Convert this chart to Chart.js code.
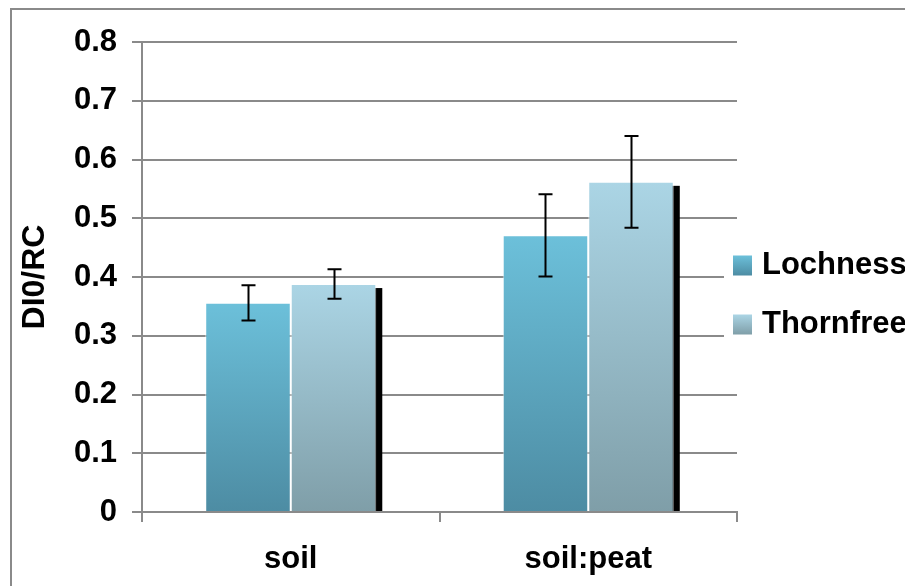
<!DOCTYPE html>
<html>
<head>
<meta charset="utf-8">
<script src="https://cdn.jsdelivr.net/npm/chart.js@4.4.1/dist/chart.umd.min.js"></script>
<style>
  html, body { margin: 0; padding: 0; background: #fff; overflow: hidden; }
  #wrap { position: relative; width: 905px; height: 586px; }
  #frame { position: absolute; left: 10px; top: 8px; width: 1000px; height: 700px;
           border-left: 2px solid #8a8a8a; border-top: 2px solid #8a8a8a; pointer-events: none; }
  canvas { position: absolute; left: 0; top: 0; }
</style>
</head>
<body>
<div id="wrap">
  <canvas id="chart" width="905" height="586"></canvas>
  <div id="frame"></div>
</div>
<script>
const categories = ['soil', 'soil:peat'];
const seriesNames = ['Lochness', 'Thornfree'];
const lochness = [0.356, 0.471];
const thornfree = [0.388, 0.562];
const lochnessErr = [0.030, 0.070];
const thornfreeErr = [0.025, 0.078];
const yTicks = [0, 0.1, 0.2, 0.3, 0.4, 0.5, 0.6, 0.7, 0.8];

const FONT = 'Liberation Sans, Arial, sans-serif';
const shades = [
    { top: '#6cc0da', bottom: '#4d8ca3' },
    { top: '#abd5e5', bottom: '#7f9ea8' }
];

// vertical gradient per bar, from its top down to zero
function barFill(shade) {
    return (c) => {
        const y = c.chart.scales.y;
        if (!y || c.raw == null) return shade.top;
        const y0 = y.getPixelForValue(c.raw), y1 = y.getPixelForValue(0);
        if (!Number.isFinite(y0) || !Number.isFinite(y1) || y0 === y1) return shade.top;
        const g = c.chart.ctx.createLinearGradient(0, y0, 0, y1);
        g.addColorStop(0, shade.top);
        g.addColorStop(1, shade.bottom);
        return g;
    };
}

// black offset shadow behind the second series' bars
const shadowPlugin = {
    id: 'barShadow',
    beforeDatasetDraw(chart, args) {
        if (args.index !== 1) return;
        const ctx = chart.ctx;
        const area = chart.chartArea;
        ctx.save();
        ctx.fillStyle = '#000';
        args.meta.data.forEach(bar => {
            const { x, y, base, width } = bar.getProps(['x', 'y', 'base', 'width'], true);
            const left = x - width / 2 + 6;
            const top = y + 4;
            ctx.fillRect(left, top, width, Math.min(base, area.bottom) - top);
        });
        ctx.restore();
    }
};

const errorBars = {
    id: 'errorBars',
    afterDatasetsDraw(chart) {
        const ctx = chart.ctx;
        const y = chart.scales.y;
        const errs = [lochnessErr, thornfreeErr];
        ctx.save();
        ctx.strokeStyle = '#000';
        ctx.lineWidth = 2;
        chart.data.datasets.forEach((ds, di) => {
            chart.getDatasetMeta(di).data.forEach((bar, i) => {
                const v = ds.data[i], e = errs[di][i];
                const x = Math.round(bar.x) + 0.5;
                const hi = y.getPixelForValue(v + e), lo = y.getPixelForValue(v - e);
                ctx.beginPath();
                ctx.moveTo(x, hi); ctx.lineTo(x, lo);
                ctx.moveTo(x - 7, hi); ctx.lineTo(x + 7, hi);
                ctx.moveTo(x - 7, lo); ctx.lineTo(x + 7, lo);
                ctx.stroke();
            });
        });
        ctx.restore();
    }
};

// legend on a white box that overlaps the plot's right edge
const sideLegend = {
    id: 'sideLegend',
    afterDraw(chart) {
        const ctx = chart.ctx;
        const left = chart.chartArea.right - 13;
        const mid = chart.height / 2 + 2;
        const gap = 59;
        ctx.save();
        ctx.fillStyle = '#fff';
        ctx.fillRect(left, mid - gap / 2 - 45, chart.width - left, gap + 90);
        ctx.font = 'bold 31px ' + FONT;
        ctx.textBaseline = 'middle';
        chart.data.datasets.forEach((ds, i) => {
            const cy = mid + (i - 0.5) * gap;
            const g = ctx.createLinearGradient(0, cy - 10, 0, cy + 10);
            g.addColorStop(0, shades[i].top);
            g.addColorStop(1, shades[i].bottom);
            ctx.fillStyle = g;
            ctx.fillRect(left + 9, cy - 10, 19, 20);
            ctx.fillStyle = '#000';
            ctx.fillText(ds.label, left + 38, cy);
        });
        ctx.restore();
    }
};

new Chart(document.getElementById('chart'), {
    type: 'bar',
    data: {
        labels: categories,
        datasets: [
            { label: seriesNames[0], data: lochness, backgroundColor: barFill(shades[0]) },
            { label: seriesNames[1], data: thornfree, backgroundColor: barFill(shades[1]) }
        ]
    },
    options: {
        responsive: false,
        animation: false,
        devicePixelRatio: 1,
        layout: { padding: { top: 42, right: 168, left: 0, bottom: 0 } },
        datasets: {
            bar: {
                categoryPercentage: 0.575,
                barPercentage: 1.0,
                borderWidth: 1,
                borderColor: 'rgba(255,255,255,0.6)'
            }
        },
        plugins: { legend: { display: false }, tooltip: { enabled: false } },
        scales: {
            x: {
                grid: { display: true, drawOnChartArea: false, drawTicks: true, tickLength: 10,
                        color: '#8a8a8a', lineWidth: 2, offset: true },
                border: { color: '#8a8a8a', width: 2 },
                ticks: { color: '#000', padding: 19, font: { family: FONT, size: 31, weight: 'bold' } },
                afterFit(s) { s.height = 74; }
            },
            y: {
                min: 0,
                max: 0.8,
                afterBuildTicks(s) { s.ticks = yTicks.map(v => ({ value: v })); },
                grid: { color: '#8a8a8a', lineWidth: 2, tickLength: 10, drawTicks: true },
                border: { color: '#8a8a8a', width: 2 },
                ticks: {
                    color: '#000', padding: 15,
                    font: { family: FONT, size: 31, weight: 'bold' },
                    callback: (v) => String(Math.round(v * 10) / 10)
                },
                title: {
                    display: true, text: 'DI0/RC', color: '#000',
                    font: { family: FONT, size: 32, weight: 'bold' },
                    padding: { top: 16, bottom: 0 }
                },
                afterFit(s) { s.width = 142; }
            }
        }
    },
    plugins: [shadowPlugin, errorBars, sideLegend]
});
</script>
</body>
</html>
